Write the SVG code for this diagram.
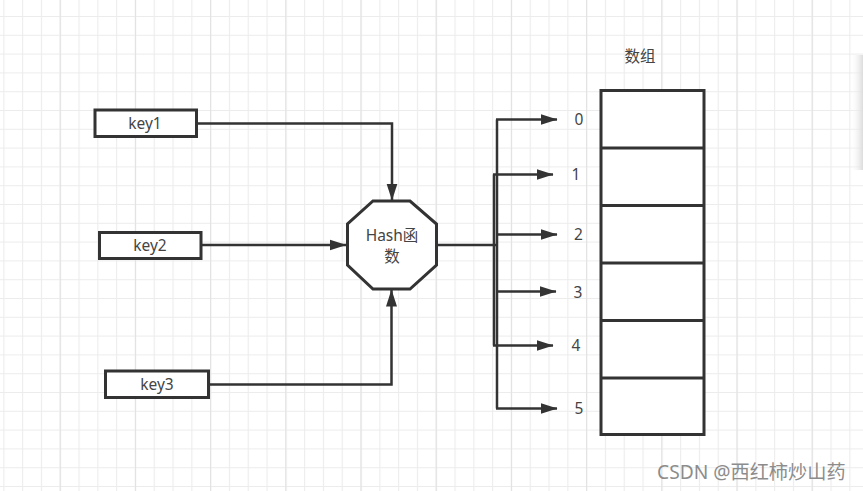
<svg xmlns="http://www.w3.org/2000/svg" width="863" height="491" viewBox="0 0 863 491">
  <defs>
    <pattern id="grid" x="3.3" y="16" width="18.8" height="18.8" patternUnits="userSpaceOnUse">
      <path d="M0.5,0 V18.8 M0,0.5 H18.8" stroke="#ececec" stroke-width="1.2" fill="none"/>
    </pattern>
    <pattern id="major" x="59.7" y="0" width="75.2" height="491" patternUnits="userSpaceOnUse">
      <path d="M0.5,0 V491" stroke="#e2e2e2" stroke-width="1.2" fill="none"/>
    </pattern>
    <linearGradient id="shade" x1="0" y1="0" x2="1" y2="0">
      <stop offset="0" stop-color="#ffffff" stop-opacity="0"/>
      <stop offset="1" stop-color="#dcdcdc" stop-opacity="1"/>
    </linearGradient>
    <marker id="arr" markerUnits="userSpaceOnUse" markerWidth="17" markerHeight="12" refX="16.5" refY="6" orient="auto">
      <path d="M0,0.5 L17,6 L0,11.5 z" fill="#333"/>
    </marker>
    <style>
      .box { fill: #fff; stroke: #333; stroke-width: 3; }
      .lbl { font-family: "Noto Sans", "Noto Sans CJK SC", sans-serif; font-size: 15.5px; fill: #444; text-anchor: middle; }
      .ln { fill: none; stroke: #333; stroke-width: 2.5; }
      .wm { font-family: "Noto Sans", "Noto Sans CJK SC", sans-serif; font-size: 19.2px; fill: #8c8c8c; }
    </style>
  </defs>

  <rect width="863" height="491" fill="#fff"/>
  <rect width="863" height="491" fill="url(#grid)"/>
  <rect width="863" height="491" fill="url(#major)"/>
  <rect x="850" y="55" width="13" height="115" fill="url(#shade)"/>

  <g id="connectors">
    <polyline class="ln" points="197,123.5 392,123.5 392,200" marker-end="url(#arr)"/>
    <polyline class="ln" points="202,245 346,245" marker-end="url(#arr)"/>
    <polyline class="ln" points="209,384.5 391.5,384.5 391.5,290" marker-end="url(#arr)"/>
    <polyline class="ln" points="437,245 497,245"/>
    <line class="ln" x1="497" y1="119.5" x2="497" y2="408.5"/>
    <line class="ln" x1="494" y1="174.5" x2="494" y2="345.5"/>
    <polyline class="ln" points="496,119.5 557,119.5" marker-end="url(#arr)"/>
    <polyline class="ln" points="493,174.5 553,174.5" marker-end="url(#arr)"/>
    <polyline class="ln" points="496,234.5 557,234.5" marker-end="url(#arr)"/>
    <polyline class="ln" points="496,291.5 556,291.5" marker-end="url(#arr)"/>
    <polyline class="ln" points="493,345.5 553,345.5" marker-end="url(#arr)"/>
    <polyline class="ln" points="496,408.5 557,408.5" marker-end="url(#arr)"/>
  </g>

  <g id="key1">
    <rect class="box" x="95" y="110" width="101.5" height="26.5"/>
    <text class="lbl" x="145" y="129">key1</text>
  </g>
  <g id="key2">
    <rect class="box" x="99.5" y="232.5" width="101.5" height="26"/>
    <text class="lbl" x="150" y="251">key2</text>
  </g>
  <g id="key3">
    <rect class="box" x="105.5" y="371" width="103" height="26.5"/>
    <text class="lbl" x="157" y="390">key3</text>
  </g>

  <g id="hash">
    <polygon points="373,201 410,201 436.5,224 436.5,265 410,289 373,289 347.5,265 347.5,224" fill="#fff" stroke="#333" stroke-width="3"/>
    <text class="lbl" x="392" y="240.5">Hash函</text>
    <text class="lbl" x="392" y="261.5">数</text>
  </g>

  <g id="labels">
    <text class="lbl" x="579" y="125">0</text>
    <text class="lbl" x="576" y="180">1</text>
    <text class="lbl" x="578.5" y="240">2</text>
    <text class="lbl" x="578" y="297.5">3</text>
    <text class="lbl" x="576" y="351">4</text>
    <text class="lbl" x="579" y="414">5</text>
  </g>

  <g id="array">
    <text class="lbl" x="640" y="62">数组</text>
    <rect class="box" x="601" y="90.5" width="103" height="344"/>
    <line class="ln" x1="601" y1="148" x2="704" y2="148" style="stroke-width:3"/>
    <line class="ln" x1="601" y1="205.5" x2="704" y2="205.5" style="stroke-width:3"/>
    <line class="ln" x1="601" y1="263" x2="704" y2="263" style="stroke-width:3"/>
    <line class="ln" x1="601" y1="320.5" x2="704" y2="320.5" style="stroke-width:3"/>
    <line class="ln" x1="601" y1="378" x2="704" y2="378" style="stroke-width:3"/>
  </g>

  <text class="wm" x="657" y="478.5">CSDN @西红柿炒山药</text>
</svg>
